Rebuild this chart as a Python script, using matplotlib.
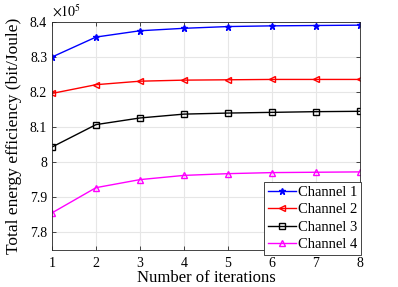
import matplotlib
matplotlib.use("Agg")
import matplotlib.pyplot as plt
from matplotlib.ticker import FuncFormatter

plt.rcParams['font.family'] = ['Liberation Serif', 'DejaVu Serif']
plt.rcParams['mathtext.fontset'] = 'stix'

iterations = [1, 2, 3, 4, 5, 6, 7, 8]
channel1 = [8.300e5, 8.357e5, 8.375e5, 8.382e5, 8.387e5, 8.389e5, 8.390e5, 8.391e5]
channel2 = [8.196e5, 8.221e5, 8.231e5, 8.234e5, 8.235e5, 8.236e5, 8.236e5, 8.236e5]
channel3 = [8.043e5, 8.107e5, 8.126e5, 8.137e5, 8.140e5, 8.142e5, 8.144e5, 8.145e5]
channel4 = [7.855e5, 7.927e5, 7.950e5, 7.962e5, 7.967e5, 7.970e5, 7.971e5, 7.972e5]
labels = ['Channel 1', 'Channel 2', 'Channel 3', 'Channel 4']
yticks = [7.8e5, 7.9e5, 8.0e5, 8.1e5, 8.2e5, 8.3e5, 8.4e5]

fig = plt.figure(figsize=(3.98, 2.87), dpi=100)
ax = fig.add_axes([52/398, 1-250/287, (360-52)/398, (250-22)/287])

ax.plot(iterations, channel1, color='#0000ff', marker='*', ms=4.5, lw=1, label=labels[0])
ax.plot(iterations, channel2, color='#ff0000', marker='<', ms=5, lw=1, mfc='none', label=labels[1])
ax.plot(iterations, channel3, color='#000000', marker='s', ms=4, lw=1, mfc='none', label=labels[2])
ax.plot(iterations, channel4, color='#ff00ff', marker='^', ms=5, lw=1, mfc='none', label=labels[3])

ax.set_xlim(1, 8)
ax.set_ylim(7.749e5, 8.4e5)
ax.set_xticks(iterations)
ax.set_yticks(yticks)
ax.yaxis.set_major_formatter(FuncFormatter(lambda v, p: '%g' % round(v/1e5, 2)))
ax.grid(True, color='#e6e6e6', lw=0.8)
ax.set_axisbelow(True)
ax.tick_params(direction='in', top=True, right=True, labelsize=10, length=3, color='#262626', width=0.6)
ax.tick_params(axis='x', pad=5)
for s in ax.spines.values():
    s.set_color('#262626')
    s.set_linewidth(0.6)
ax.set_xlabel('Number of iterations', fontsize=12, labelpad=0)
ax.set_ylabel('Total energy efficiency (bit/Joule)', fontsize=12.5, labelpad=6)
ax.text(0.0, 1.01, r'$\times 10^5$', transform=ax.transAxes, fontsize=10, ha='left', va='bottom')

leg = ax.legend(loc='lower right', bbox_to_anchor=(1.003, -0.022), fontsize=10.5, fancybox=False,
                edgecolor='#262626', framealpha=1, borderpad=0.25, labelspacing=0.3,
                handlelength=1.9, handletextpad=0.15, borderaxespad=0)
leg.get_frame().set_linewidth(0.6)

fig.savefig('out.png', dpi=100)
